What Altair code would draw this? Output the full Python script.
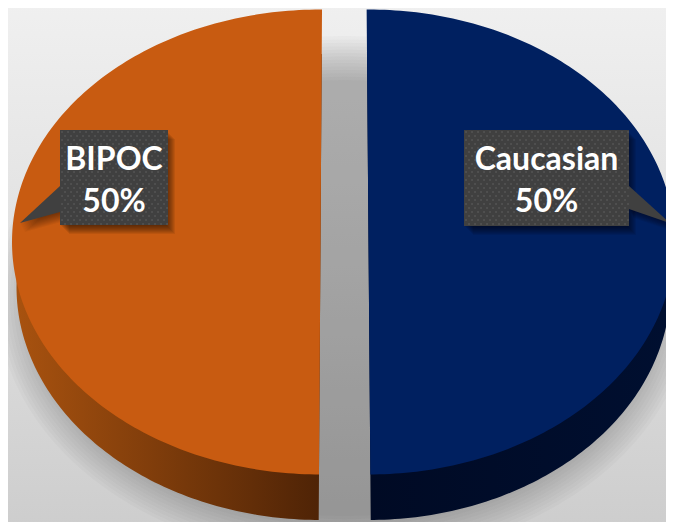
import numpy as np
import pandas as pd
import altair as alt

# Chart values
slices = ["BIPOC", "Caucasian"]
shares = [50, 50]
label_x = [114, 546.5]
top_colors = ["#c85b11", "#002060"]
side_from = ["#a8520f", "#000f30"]
side_to = ["#4e2306", "#000a24"]

# Geometry of the tilted pie, in page pixels
PX = dict(
    BIPOC=dict(cx=320.5, side=-1, rx=308.5, rx2=304, tilt=-0.0065),
    Caucasian=dict(cx=368.5, side=1, rx=306, rx2=302, tilt=0.008),
)
CY, RY, CY2, RY2 = 242, 232.5, 287, 233


def half(name, share, cy, ry, rxk):
    g = PX[name]
    span = share / 100 * 360
    th = np.radians(np.linspace(0, span, 181))
    y = cy - ry * np.cos(th)
    return pd.DataFrame({
        "y": y,
        "x": g["cx"] + g["tilt"] * (y - CY),
        "x2": g["cx"] + g["side"] * g[rxk] * np.sin(th),
    })


def xs(f="x"):
    return alt.X(f"{f}:Q", axis=None, scale=alt.Scale(domain=[8, 666], range=[0, 658]))


def ys(f="y"):
    return alt.Y(f"{f}:Q", axis=None, scale=alt.Scale(domain=[8, 522], range=[0, 514]))


layers = []

# Background
bg = pd.DataFrame({"x": [0], "x2": [680], "y": [0], "y2": [530]})
layers.append(alt.Chart(bg).mark_rect(
    clip=True,
    color=alt.Gradient(gradient="linear", x1=0, y1=0, x2=0, y2=1, stops=[
        alt.GradientStop(offset=0, color="#f0f0f0"),
        alt.GradientStop(offset=0.5, color="#e0e0e0"),
        alt.GradientStop(offset=1, color="#cdcdcd"),
    ]),
).encode(x=xs(), x2="x2:Q", y=ys(), y2="y2:Q"))

# Soft shadow beneath the pie
rows = []
for i, grow in enumerate(np.linspace(22, -22, 14)):
    th = np.radians(np.linspace(0, 180, 181))
    y = 298 - (240 + grow) * np.cos(th)
    rows.append(pd.DataFrame({
        "y": y, "step": i,
        "x": 344.5 - (326 + grow) * np.sin(th),
        "x2": 344.5 + (326 + grow) * np.sin(th),
    }))
layers.append(alt.Chart(pd.concat(rows)).mark_area(
    orient="horizontal", clip=True, color="#000000", opacity=0.02,
).encode(x=xs(), x2="x2:Q", y=ys(), detail="step:N"))

# Pie sides and tops
for k, (name, share) in enumerate(zip(slices, shares)):
    stops = [side_from[k], side_to[k]] if k == 0 else [side_to[k], side_from[k]]
    layers.append(alt.Chart(half(name, share, CY2, RY2, "rx2")).mark_area(
        orient="horizontal", clip=True,
        color=alt.Gradient(gradient="linear", x1=0, y1=0, x2=1, y2=0, stops=[
            alt.GradientStop(offset=0, color=stops[0]),
            alt.GradientStop(offset=1, color=stops[1]),
        ]),
    ).encode(x=xs(), x2="x2:Q", y=ys()))
    layers.append(alt.Chart(half(name, share, CY, RY, "rx")).mark_area(
        orient="horizontal", clip=True, color=top_colors[k],
    ).encode(x=xs(), x2="x2:Q", y=ys()))

# Callouts
boxes = [dict(x=60, x2=168, y=130, y2=225), dict(x=464, x2=629, y=130, y2=226)]
tails = [
    [dict(x=20, y=223, y2=223), dict(x=60, y=186, y2=212)],
    [dict(x=629, y=186, y2=209), dict(x=670, y=223, y2=223)],
]
for off in range(1, 10):
    for b, t in zip(boxes, tails):
        s = dict(x=b["x"] + off, x2=b["x2"] + off - 2, y=b["y"] + off, y2=b["y2"] + off)
        layers.append(alt.Chart(pd.DataFrame([s])).mark_rect(
            clip=True, color="#000000", opacity=0.07,
        ).encode(x=xs(), x2="x2:Q", y=ys(), y2="y2:Q"))
        ts = [dict(x=p["x"] + off / 2, y=p["y"] + off, y2=p["y2"] + off) for p in t]
        layers.append(alt.Chart(pd.DataFrame(ts)).mark_area(
            clip=True, color="#000000", opacity=0.05,
        ).encode(x=xs(), y=ys(), y2="y2:Q"))
for b, t in zip(boxes, tails):
    layers.append(alt.Chart(pd.DataFrame(t)).mark_area(clip=True, color="#404040").encode(
        x=xs(), y=ys(), y2="y2:Q"))
    layers.append(alt.Chart(pd.DataFrame([b])).mark_rect(clip=True, color="#404040").encode(
        x=xs(), x2="x2:Q", y=ys(), y2="y2:Q"))

# Dotted texture of the callouts
dots = []
for b in boxes:
    for r, yy in enumerate(np.arange(b["y"] + 2, b["y2"], 4)):
        for xx in np.arange(b["x"] + 2 + (r % 2) * 3, b["x2"], 6):
            dots.append(dict(x=xx, y=yy))
layers.append(alt.Chart(pd.DataFrame(dots)).mark_square(
    clip=True, size=2.5, color="#5c5c5c", opacity=0.9,
).encode(x=xs(), y=ys()))

# Labels
labels = pd.DataFrame({
    "x": label_x * 2,
    "y": [160, 160, 202, 202],
    "t": slices + [f"{v}%" for v in shares],
})
layers.append(alt.Chart(labels).mark_text(
    font="Lato", fontWeight="bold", fontSize=32, color="#ffffff",
    align="center", baseline="middle",
).encode(x=xs(), y=ys(), text="t:N"))

chart = alt.layer(*layers).properties(
    width=658, height=514, padding=0, background="#eeeeee",
    autosize=alt.AutoSizeParams(type="none"),
).configure_view(stroke=None)

chart.save("out.html", embed_options={"renderer": "svg", "actions": False})
